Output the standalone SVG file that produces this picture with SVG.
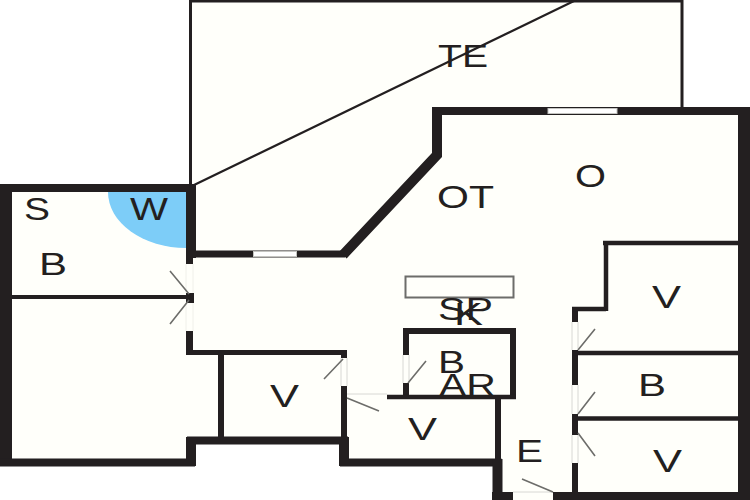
<svg xmlns="http://www.w3.org/2000/svg" width="750" height="500" viewBox="0 0 750 500">
<style>
.w{fill:none;stroke:#231f20;stroke-linejoin:miter;stroke-linecap:butt}
.d{fill:none;stroke:#6d6d6a;stroke-width:1.6}
.o{fill:none;stroke:#d8d8d4;stroke-width:1}
.f{fill:none;stroke:#f0f0ea;stroke-width:1}
.g{fill:#fff;stroke:#c4c4c0;stroke-width:1}
text{font-family:"Liberation Sans",Arial,sans-serif;font-size:31px;fill:#231f20}
</style>
<rect width="750" height="500" fill="#fff"/>
<path d="M190 0H682V108H750V500H497V462H344V440H191V462H0V186H190Z" fill="#fffffa"/>
<path d="M108 192H186V248A78 56 0 0 1 108 192Z" fill="#7dcdf8"/>
<path class="w" stroke-width="3" d="M190.500 186V1H682V108"/>
<path class="w" stroke-width="2.200" d="M192 186L576 0"/>
<path class="w" stroke-width="12" d="M6 466V190"/>
<path class="w" stroke-width="8" d="M0 188H196"/>
<path class="w" stroke-width="10" d="M191 184V258"/>
<path class="w" stroke-width="7" d="M190 254H345"/>
<path class="w" stroke-width="10" d="M343 255L437 155V111"/>
<path class="w" stroke-width="8" d="M432 111H750"/>
<path class="w" stroke-width="12" d="M744 107V500"/>
<path class="w" stroke-width="8" d="M0 462.500H191V440.500H344V462.500H497.500V500"/>
<path class="w" stroke-width="10" d="M191 437V466M344 437V466M497.500 459V500"/>
<path class="w" stroke-width="8" d="M492 496H513M553 496H750"/>
<path class="w" stroke-width="4" d="M12 297H190"/>
<rect x="186" y="293" width="8" height="10" fill="#231f20"/>
<path class="w" stroke-width="7" d="M189.500 258V264M189.500 331V352"/>
<path class="w" stroke-width="5" d="M186 352.500H347"/>
<path class="w" stroke-width="6" d="M221 352V438M344 350V358M344 386V438"/>
<path class="w" stroke-width="6" d="M406 329V355M406 383V396M513 329V396M403 331H516"/>
<path class="w" stroke-width="4.500" d="M387 397H516"/>
<path class="w" stroke-width="6" d="M498 396V460"/>
<path class="w" stroke-width="6" d="M575 307V322M575 350V385M575 414V435M575 463V493"/>
<path class="w" stroke-width="4.500" d="M572 309H606M606 311V243M603 243H738M572 353H738M572 418.500H738"/>
<rect class="g" x="253.500" y="251.500" width="43" height="5"/>
<rect class="g" x="548" y="108.500" width="69" height="5"/>
<rect x="405.500" y="276.500" width="108" height="21" fill="none" stroke="#6d6d6a" stroke-width="2"/>
<path class="f" d="M186 264V293M193 264V293M186 303V331M193 303V331"/>
<path class="o" d="M341 358V386M347 358V386M347 394H387M403 355V383M409 355V383M572 322V350M578 322V350M572 385V414M578 385V414M572 435V463M578 435V463M513 492H553"/>
<path class="d" d="M189 294L170 271M189 300L170 324M343 359L324 379M347 398L379 411M408 383L426 361M578 350L595 329M578 414L595 392M578 433L595 456M553 492L522 479"/>
<text x="438" y="67" textLength="50" lengthAdjust="spacingAndGlyphs">TE</text>
<text x="24" y="220" textLength="26" lengthAdjust="spacingAndGlyphs">S</text>
<text x="130" y="220" textLength="38" lengthAdjust="spacingAndGlyphs">W</text>
<text x="39" y="275" textLength="28" lengthAdjust="spacingAndGlyphs">B</text>
<text x="437" y="208" textLength="57" lengthAdjust="spacingAndGlyphs">OT</text>
<text x="575" y="187" textLength="31" lengthAdjust="spacingAndGlyphs">O</text>
<text x="652" y="308" textLength="29" lengthAdjust="spacingAndGlyphs">V</text>
<text x="438" y="320" textLength="55" lengthAdjust="spacingAndGlyphs">SP</text>
<text x="454" y="325" textLength="29" lengthAdjust="spacingAndGlyphs">K</text>
<text x="438" y="373" textLength="27" lengthAdjust="spacingAndGlyphs">B</text>
<text x="439" y="396" textLength="57" lengthAdjust="spacingAndGlyphs">AR</text>
<text x="270" y="407" textLength="29" lengthAdjust="spacingAndGlyphs">V</text>
<text x="408" y="440" textLength="29" lengthAdjust="spacingAndGlyphs">V</text>
<text x="516" y="462" textLength="27" lengthAdjust="spacingAndGlyphs">E</text>
<text x="638" y="396" textLength="28" lengthAdjust="spacingAndGlyphs">B</text>
<text x="653" y="472" textLength="29" lengthAdjust="spacingAndGlyphs">V</text>
</svg>
